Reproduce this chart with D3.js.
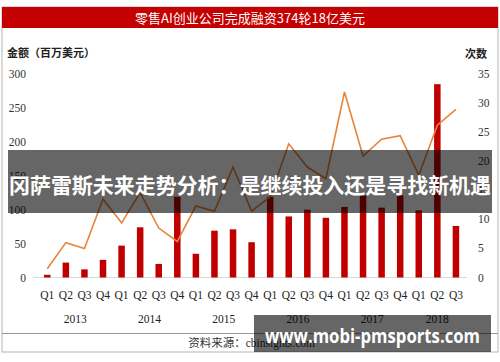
<!DOCTYPE html>
<html>
<head>
<meta charset="utf-8">
<script src="https://cdn.jsdelivr.net/npm/d3@7"></script>
<style>
  body { margin: 0; background: #fff; }
  svg text { font-family: "Liberation Serif", "Noto Sans CJK SC", serif; }
  .cjk { font-family: "Noto Sans CJK SC", sans-serif !important; }
</style>
</head>
<body>
<svg id="chart" width="500" height="362"></svg>
<script>
// data
var years = ["2013", "2014", "2015", "2016", "2017", "2018"];
var quartersPerYear = [4, 4, 4, 4, 4, 3];
var quarterNames = ["Q1", "Q2", "Q3", "Q4"];
// 金额（百万美元）
var amount = [4, 22, 12, 26, 47, 74, 20, 119, 35, 69, 71, 52, 119, 90, 100, 88, 104, 121, 103, 121, 99, 285, 76];
// 次数
var deals = [1.5, 6.0, 5.0, 13.5, 9.4, 14.6, 8.5, 6.2, 12.3, 11.4, 19.0, 11.4, 13.9, 23.0, 19.0, 17.0, 31.9, 20.9, 23.8, 24.4, 17.6, 26.2, 28.9];
var leftTicks = [0, 50, 100, 150, 200, 250, 300];
var rightTicks = [0, 5, 10, 15, 20, 25, 30, 35];

var title = "零售AI创业公司完成融资374轮18亿美元";
var source = "资料来源：cbinsights.com";
var banner1 = "冈萨雷斯未来走势分析：是继续投入还是寻找新机遇";
var banner2 = "www.mobi-pmsports.com";

// categories
var cats = [];
years.forEach(function(y, i) {
    for (var q = 0; q < quartersPerYear[i]; q++) {
        cats.push({ year: y, q: quarterNames[q], idx: cats.length });
    }
});

var svg = d3.select("#chart");

// frame
svg.append("rect")
   .attr("x", 2).attr("y", 7).attr("width", 496).attr("height", 345)
   .attr("fill", "#fff").attr("stroke", "#b5b5b5").attr("stroke-width", 1);
svg.append("rect")
   .attr("x", 2).attr("y", 7).attr("width", 496).attr("height", 21)
   .attr("fill", "#c40000");
svg.append("text")
   .attr("class", "cjk")
   .attr("x", 250).attr("y", 22.5)
   .attr("text-anchor", "middle")
   .attr("fill", "#fff")
   .attr("font-size", 13)
   .text(title);
svg.append("line")
   .attr("x1", 2).attr("x2", 498).attr("y1", 333.5).attr("y2", 333.5)
   .attr("stroke", "#999");
svg.append("text")
   .attr("x", 315).attr("y", 347)
   .attr("text-anchor", "end")
   .attr("fill", "#333")
   .attr("font-size", 11.5)
   .text(source);

// axis titles
svg.append("text")
   .attr("class", "cjk")
   .attr("x", 7).attr("y", 57)
   .attr("fill", "#222").attr("font-size", 11).attr("font-weight", "bold")
   .text("金额（百万美元）");
svg.append("text")
   .attr("class", "cjk")
   .attr("x", 465).attr("y", 58)
   .attr("fill", "#222").attr("font-size", 11).attr("font-weight", "bold")
   .text("次数");

// scales
var x = d3.scaleBand()
          .domain(cats.map(function(d) { return d.idx; }))
          .range([38, 465.2])
          .paddingInner(0.65)
          .paddingOuter(0.325);
var yL = d3.scaleLinear().domain([0, 300]).range([277.5, 74]);
var yR = d3.scaleLinear().domain([0, 35]).range([277.5, 74]);
var cx = function(i) { return x(i) + x.bandwidth() / 2; };

// tick labels
svg.append("g").selectAll("text")
   .data(leftTicks).enter().append("text")
   .attr("x", 26).attr("y", function(d) { return yL(d) + 4; })
   .attr("text-anchor", "end")
   .attr("fill", "#333").attr("font-size", 11.5)
   .text(function(d) { return d; });
svg.append("g").selectAll("text")
   .data(rightTicks).enter().append("text")
   .attr("x", 478).attr("y", function(d) { return yR(d) + 4; })
   .attr("fill", "#333").attr("font-size", 11.5)
   .text(function(d) { return d; });

// baseline
svg.append("line")
   .attr("x1", 33).attr("x2", 467).attr("y1", 277.5).attr("y2", 277.5)
   .attr("stroke", "#d9d9d9");

// bars
svg.append("g").selectAll("rect")
   .data(amount).enter().append("rect")
   .attr("x", function(d, i) { return x(i); })
   .attr("width", x.bandwidth())
   .attr("y", function(d) { return yL(d); })
   .attr("height", function(d) { return yL(0) - yL(d); })
   .attr("fill", "#c00000");

// line
var line = d3.line()
             .x(function(d, i) { return cx(i); })
             .y(function(d) { return yR(d); });
svg.append("path")
   .datum(deals)
   .attr("d", line)
   .attr("fill", "none")
   .attr("stroke", "#e8843a")
   .attr("stroke-width", 1.6);

// x labels
svg.append("g").selectAll("text")
   .data(cats).enter().append("text")
   .attr("x", function(d) { return cx(d.idx); })
   .attr("y", 298.5)
   .attr("text-anchor", "middle")
   .attr("fill", "#222").attr("font-size", 11.5)
   .text(function(d) { return d.q; });
svg.append("g").selectAll("text")
   .data(years).enter().append("text")
   .attr("x", function(y) {
       var c = cats.filter(function(d) { return d.year === y; });
       return (cx(c[0].idx) + cx(c[c.length - 1].idx)) / 2;
   })
   .attr("y", 323)
   .attr("text-anchor", "middle")
   .attr("fill", "#222").attr("font-size", 11.5)
   .text(function(d) { return d; });

// overlay banners
svg.append("rect")
   .attr("x", 8).attr("y", 150).attr("width", 484).attr("height", 63)
   .attr("fill", "rgba(0,0,0,0.6)");
svg.append("text")
   .attr("class", "cjk")
   .attr("x", 9).attr("y", 193)
   .attr("fill", "#fff").attr("font-size", 21).attr("font-weight", "bold")
   .attr("textLength", 482).attr("lengthAdjust", "spacingAndGlyphs")
   .text(banner1);
svg.append("rect")
   .attr("x", 254).attr("y", 315).attr("width", 237).attr("height", 37)
   .attr("fill", "rgba(0,0,0,0.6)");
svg.append("text")
   .attr("x", 265).attr("y", 343)
   .style("font-family", "'Open Sans', 'Noto Sans', sans-serif")
   .attr("fill", "#fff").attr("font-size", 20).attr("font-weight", "bold")
   .attr("textLength", 215).attr("lengthAdjust", "spacingAndGlyphs")
   .text(banner2);
</script>
</body>
</html>
